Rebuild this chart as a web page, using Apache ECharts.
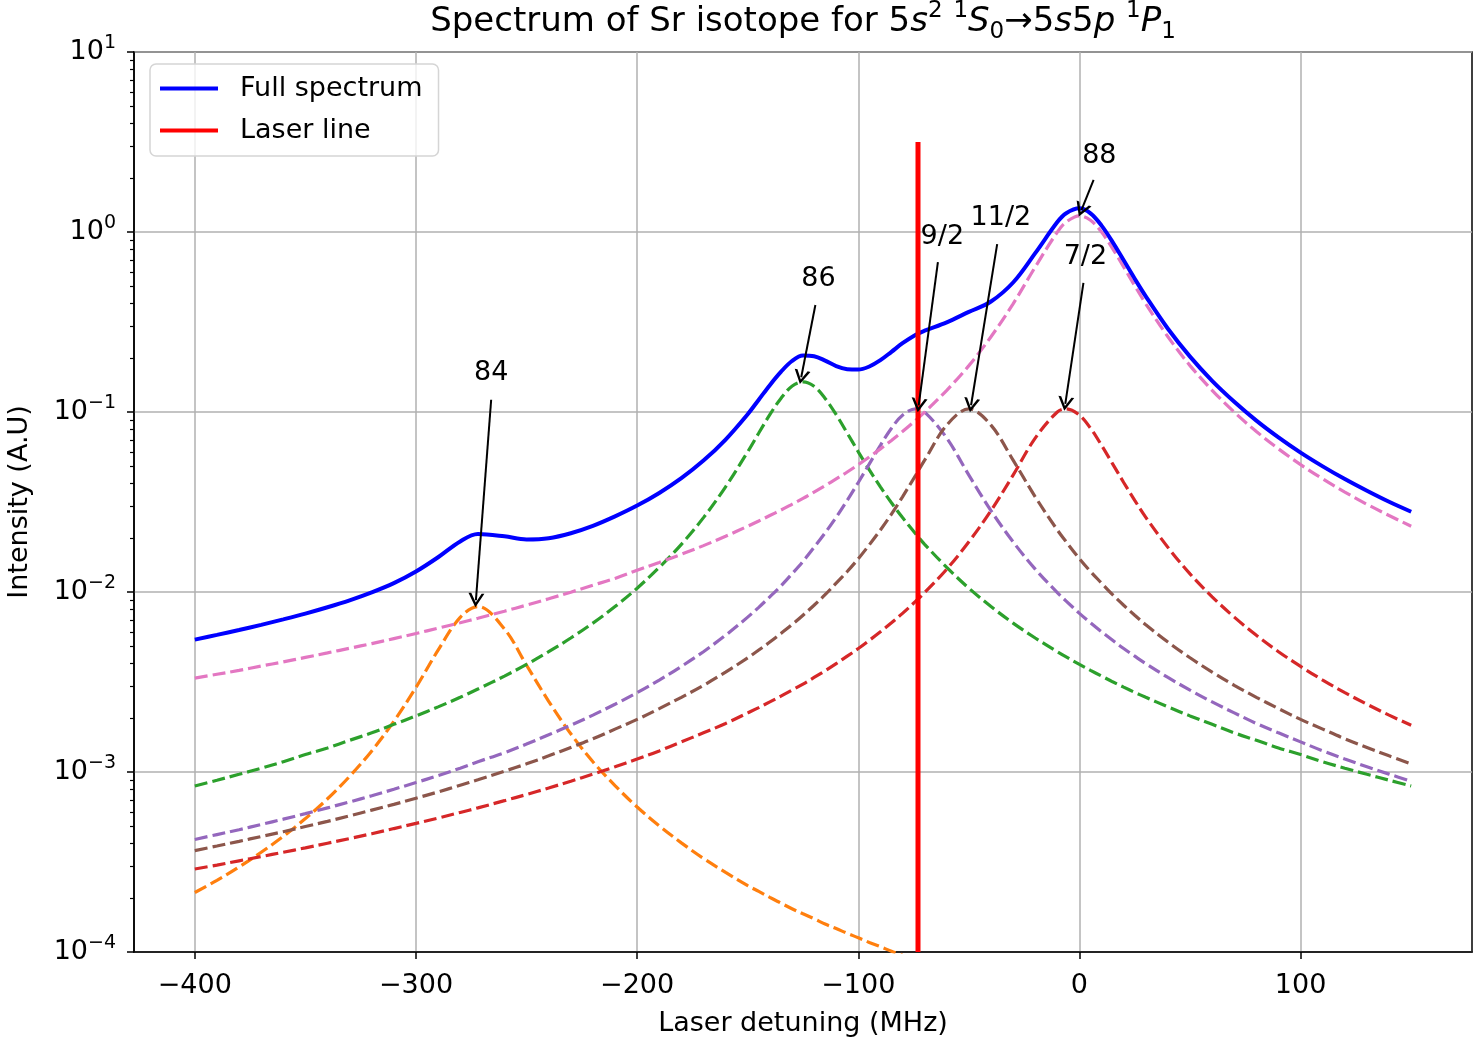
<!DOCTYPE html>
<html>
<head>
<meta charset="utf-8">
<title>Spectrum of Sr isotope</title>
<script src="https://cdn.jsdelivr.net/npm/echarts@6/dist/echarts.min.js"></script>
<style>
  html, body { margin: 0; padding: 0; background: #fff; }
  #chart { width: 1473px; height: 1040px; }
</style>
</head>
<body>
<div id="chart"></div>
<script>
// detuning grid in MHz (shared by every curve)
const detuning = [-400,-390,-380,-370,-360,-350,-340,-330,-320,-310,-300,-290,-280,-272,
  -260,-250,-240,-230,-220,-210,-200,-190,-180,-170,-160,-150,
  -145,-140,-135,-130,-125,-120,-115,-110,-105,-100,-95,-90,-85,-80,
  -74,-70,-60,-50,-40,-30,-20,-10,-6,
  0,5,10,15,20,25,30,
  40,50,60,70,80,90,100,110,120,130,140,150];

// full spectrum (blue)
const fullSpectrum = [0.00544,0.00578,0.00615,0.00657,0.00705,0.00759,0.00823,0.00899,0.00995,0.0112,0.0130,0.0156,0.0191,0.0210,
  0.0204,0.0196,0.0199,0.0212,0.0233,0.0263,0.0302,0.0355,0.0429,0.0537,0.0703,0.0972,
  0.117,0.141,0.167,0.192,0.206,0.204,0.193,0.180,0.173,0.172,0.179,0.194,0.216,0.241,
  0.269,0.283,0.315,0.360,0.411,0.524,0.763,1.136,1.272,
  1.353,1.268,1.085,0.879,0.696,0.550,0.439,
  0.290,0.203,0.149,0.114,0.0896,0.0723,0.0595,0.0499,0.0424,0.0365,0.0317,0.0279];

// 84Sr (only down to where it leaves the plot)
const sr84 = [0.000214,0.000250,0.000297,0.000358,0.000439,0.000551,0.000710,0.000946,0.00131,0.00191,0.00295,0.00475,0.00723,0.00830,
  0.00623,0.00392,0.00247,0.00163,0.00114,0.000840,0.000639,0.000502,0.000404,0.000331,0.000277,0.000234,
  0.000217,0.000201,0.000187,0.000174,0.000163,0.000153,0.000143,0.000135,0.000127,0.000120,0.000113,0.000107,0.000101,0.0000963];

// 86Sr
const sr86 = [0.000836,0.000900,0.000971,0.00105,0.00114,0.00125,0.00136,0.00150,0.00165,0.00184,0.00205,0.00230,0.00260,0.00289,
  0.00341,0.00396,0.00466,0.00555,0.00672,0.00830,0.0105,0.0137,0.0184,0.0259,0.0384,0.0601,
  0.0764,0.0967,0.119,0.139,0.147,0.139,0.119,0.0967,0.0764,0.0601,0.0477,0.0384,0.0313,0.0259,
  0.0210,0.0184,0.0137,0.0105,0.00830,0.00672,0.00555,0.00466,0.00436,
  0.00396,0.00367,0.00341,0.00317,0.00296,0.00277,0.00260,
  0.00230,0.00205,0.00184,0.00165,0.00150,0.00136,0.00125,0.00114,0.00105,0.000971,0.000900,0.000836];

// 87Sr F=7/2
const sr87f72 = [0.000289,0.000304,0.000321,0.000339,0.000358,0.000379,0.000402,0.000427,0.000454,0.000485,0.000518,0.000555,0.000596,0.000632,
  0.000693,0.000750,0.000815,0.000889,0.000973,0.00107,0.00118,0.00131,0.00147,0.00165,0.00186,0.00213,
  0.00228,0.00245,0.00264,0.00285,0.00308,0.00335,0.00365,0.00400,0.00440,0.00485,0.00539,0.00601,0.00674,0.00761,
  0.00890,0.00993,0.0134,0.0190,0.0283,0.0446,0.0716,0.100,0.104,
  0.0960,0.0813,0.0653,0.0515,0.0406,0.0323,0.0260,
  0.0177,0.0126,0.00940,0.00725,0.00575,0.00466,0.00386,0.00324,0.00276,0.00238,0.00207,0.00182];

// 87Sr F=9/2
const sr87f92 = [0.000422,0.000449,0.000478,0.000511,0.000547,0.000587,0.000632,0.000682,0.000738,0.000802,0.000874,0.000955,0.00105,0.00114,
  0.00128,0.00143,0.00161,0.00182,0.00207,0.00238,0.00276,0.00324,0.00386,0.00466,0.00575,0.00725,
  0.00822,0.00940,0.0108,0.0126,0.0148,0.0177,0.0213,0.0260,0.0323,0.0406,0.0515,0.0653,0.0813,0.0960,
  0.104,0.100,0.0716,0.0446,0.0283,0.0190,0.0134,0.00993,0.00890,
  0.00761,0.00674,0.00601,0.00539,0.00485,0.00440,0.00400,
  0.00335,0.00285,0.00245,0.00213,0.00186,0.00165,0.00147,0.00131,0.00118,0.00107,0.000973,0.000889];

// 87Sr F=11/2
const sr87f112 = [0.000366,0.000388,0.000412,0.000438,0.000466,0.000498,0.000532,0.000571,0.000614,0.000661,0.000715,0.000775,0.000844,0.000905,
  0.00101,0.00111,0.00123,0.00137,0.00153,0.00173,0.00196,0.00225,0.00260,0.00303,0.00359,0.00431,
  0.00476,0.00527,0.00588,0.00658,0.00743,0.00844,0.00966,0.0112,0.0130,0.0153,0.0183,0.0221,0.0271,0.0338,
  0.0446,0.0540,0.0845,0.104,0.0845,0.0540,0.0338,0.0221,0.0190,
  0.0153,0.0130,0.0112,0.00966,0.00844,0.00743,0.00658,
  0.00527,0.00431,0.00359,0.00303,0.00260,0.00225,0.00196,0.00173,0.00153,0.00137,0.00123,0.00111];

// 88Sr
const sr88 = [0.00332,0.00349,0.00367,0.00388,0.00409,0.00433,0.00459,0.00487,0.00517,0.00551,0.00588,0.00630,0.00675,0.00715,
  0.00782,0.00846,0.00917,0.00998,0.0109,0.0119,0.0132,0.0146,0.0162,0.0181,0.0204,0.0232,
  0.0248,0.0266,0.0285,0.0307,0.0331,0.0359,0.0390,0.0425,0.0464,0.0510,0.0563,0.0624,0.0695,0.0779,
  0.0901,0.0998,0.132,0.181,0.262,0.399,0.639,0.999,1.136,
  1.23,1.163,0.999,0.809,0.639,0.503,0.399,
  0.262,0.181,0.132,0.0998,0.0779,0.0624,0.0510,0.0425,0.0359,0.0307,0.0266,0.0232];

// laser line
const laserDetuning = -73;
const laserIntensity = [1e-4, 3.16];

// peak labels with their arrows (data coords)
const noteLabels = ['84', '86', '9/2', '11/2', '7/2', '88'];
const noteText = [[-266, 0.165], [-118, 0.548], [-62, 0.938], [-35.5, 1.196], [2.7, 0.726], [9, 2.64]];
const noteTail = [[-266, 0.117], [-119.4, 0.393], [-64, 0.681], [-37.2, 0.857], [1.8, 0.521], [6.4, 1.945]];
const noteHead = [[-272.9, 0.0090], [-125.8, 0.156], [-72.7, 0.109], [-49, 0.109], [-6.4, 0.111], [0.9, 1.325]];

const xTicks = [-400, -300, -200, -100, 0, 100];
const yTicks = [1e-4, 1e-3, 1e-2, 1e-1, 1, 10];

const FONT = 'DejaVu Sans';

// minor log ticks 2..9 per decade
let yMinor = [];
for (let e = -4; e < 1; e++) {
  for (let m = 2; m <= 9; m++) {
    yMinor.push(m * Math.pow(10, e));
  }
}

function pairs(ys) {
  return ys.map((y, i) => [detuning[i], y]);
}

function dashed(name, ys, color) {
  return {
    name: name,
    type: 'line',
    data: pairs(ys),
    symbol: 'none',
    smooth: 0.35,
    silent: true,
    lineStyle: { color: color, width: 3.2, type: [13, 5] }
  };
}

const chart = echarts.init(document.getElementById('chart'), null, { renderer: 'canvas' });

const option = {
  animation: false,
  backgroundColor: '#fff',
  textStyle: { fontFamily: FONT },
  graphic: [{
    type: 'text',
    x: 803,
    y: 22,
    style: {
      text: 'Spectrum of Sr isotope for 5{i|s}{sup|2} {sup|1}{i|S}{sub|0}{n|\u2192}5{i|s}5{i|p} {sup|1}{i|P}{sub|1}',
      fontFamily: FONT,
      fontSize: 34,
      fill: '#000',
      align: 'center',
      verticalAlign: 'middle',
      rich: {
        n: { fontFamily: FONT, fontSize: 34, lineHeight: 44 },
        i: { fontFamily: FONT, fontSize: 34, fontStyle: 'italic', lineHeight: 44 },
        sup: { fontFamily: FONT, fontSize: 23, verticalAlign: 'top', lineHeight: 44, padding: [0, 0, 10, 0] },
        sub: { fontFamily: FONT, fontSize: 23, verticalAlign: 'bottom', lineHeight: 44, padding: [8, 0, 0, 0] }
      }
    }
  }],
  grid: {
    left: 134, top: 52, right: 1, bottom: 88,
    containLabel: false,
    outerBoundsMode: 'none',
    show: true, borderColor: '#000', borderWidth: 1.5
  },
  legend: {
    data: ['Full spectrum', 'Laser line'],
    orient: 'vertical',
    left: 150,
    top: 64,
    icon: 'rect',
    itemWidth: 58,
    itemHeight: 4,
    itemGap: 15,
    padding: [11, 16, 12, 10],
    backgroundColor: 'rgba(255,255,255,0.8)',
    borderColor: '#d5d5d5',
    borderWidth: 1.5,
    borderRadius: 6,
    textStyle: { fontFamily: FONT, fontSize: 27, color: '#000', padding: [0, 0, 0, 17] }
  },
  xAxis: {
    type: 'value',
    min: -427.5,
    max: 177.5,
    name: 'Laser detuning (MHz)',
    nameLocation: 'middle',
    nameGap: 58,
    nameTextStyle: { fontFamily: FONT, fontSize: 27, color: '#000' },
    axisLine: { onZero: false, lineStyle: { color: '#000', width: 1.5 } },
    axisTick: { show: true, length: 7, customValues: xTicks, lineStyle: { color: '#000', width: 1.5 } },
    axisLabel: {
      customValues: xTicks,
      margin: 20,
      fontFamily: FONT,
      fontSize: 27,
      color: '#000',
      formatter: v => (v < 0 ? '\u2212' + (-v) : '' + v)
    },
    splitLine: { show: true, lineStyle: { color: '#b0b0b0', width: 1.5 } }
  },
  yAxis: [{
    type: 'log',
    logBase: 10,
    min: 1e-4,
    max: 10,
    name: 'Intensity (A.U)',
    nameLocation: 'middle',
    nameRotate: 90,
    nameGap: 101,
    nameTextStyle: { fontFamily: FONT, fontSize: 27, color: '#000' },
    axisLine: { show: true, onZero: false, lineStyle: { color: '#000', width: 1.5 } },
    axisTick: { show: true, length: 7, customValues: yTicks, lineStyle: { color: '#000', width: 1.5 } },
    axisLabel: {
      customValues: yTicks,
      margin: 18,
      color: '#000',
      formatter: function (v) {
        const e = Math.round(Math.log10(v));
        return '{b|10}{e|' + (e < 0 ? '\u2212' + (-e) : e) + '}';
      },
      rich: {
        b: { fontFamily: FONT, fontSize: 27, color: '#000', lineHeight: 36 },
        e: { fontFamily: FONT, fontSize: 19, color: '#000', verticalAlign: 'top', lineHeight: 36, padding: [0, 0, 8, 0] }
      }
    },
    splitLine: { show: true, lineStyle: { color: '#b0b0b0', width: 1.5 } }
  }, {
    type: 'log',
    logBase: 10,
    min: 1e-4,
    max: 10,
    position: 'left',
    axisLine: { show: false, onZero: false },
    axisLabel: { show: false },
    splitLine: { show: false },
    axisTick: { show: true, length: 4, customValues: yMinor, lineStyle: { color: '#000', width: 1.2 } }
  }],
  series: [
    dashed('84', sr84, '#ff7f0e'),
    dashed('86', sr86, '#2ca02c'),
    dashed('7/2', sr87f72, '#d62728'),
    dashed('9/2', sr87f92, '#9467bd'),
    dashed('11/2', sr87f112, '#8c564b'),
    dashed('88', sr88, '#e377c2'),
    {
      name: 'Full spectrum',
      type: 'line',
      data: pairs(fullSpectrum),
      symbol: 'none',
      smooth: 0.35,
      itemStyle: { color: '#0000ff' },
      lineStyle: { color: '#0000ff', width: 4 }
    },
    {
      name: 'Laser line',
      type: 'line',
      data: laserIntensity.map(v => [laserDetuning, v]),
      symbol: 'none',
      itemStyle: { color: '#ff0000' },
      lineStyle: { color: '#ff0000', width: 5 }
    },
    {
      name: 'notes',
      type: 'scatter',
      symbolSize: 0,
      silent: true,
      itemStyle: { opacity: 1 },
      data: noteText.map((c, i) => ({ value: c, name: noteLabels[i] })),
      label: {
        show: true,
        position: 'inside',
        formatter: '{b}',
        fontFamily: FONT,
        fontSize: 27,
        color: '#000',
        opacity: 1,
        textBorderWidth: 0
      },
      markLine: {
        silent: true,
        symbol: ['none', 'path://M0,14 L10,0 L20,14 L16.5,14 L10,4.8 L3.5,14 Z'],
        symbolSize: [16, 14],
        label: { show: false },
        lineStyle: { color: '#000', width: 2, type: 'solid', opacity: 1 },
        data: noteTail.map((t, i) => [{ coord: t }, { coord: noteHead[i] }])
      }
    }
  ]
};

chart.setOption(option);
</script>
</body>
</html>
